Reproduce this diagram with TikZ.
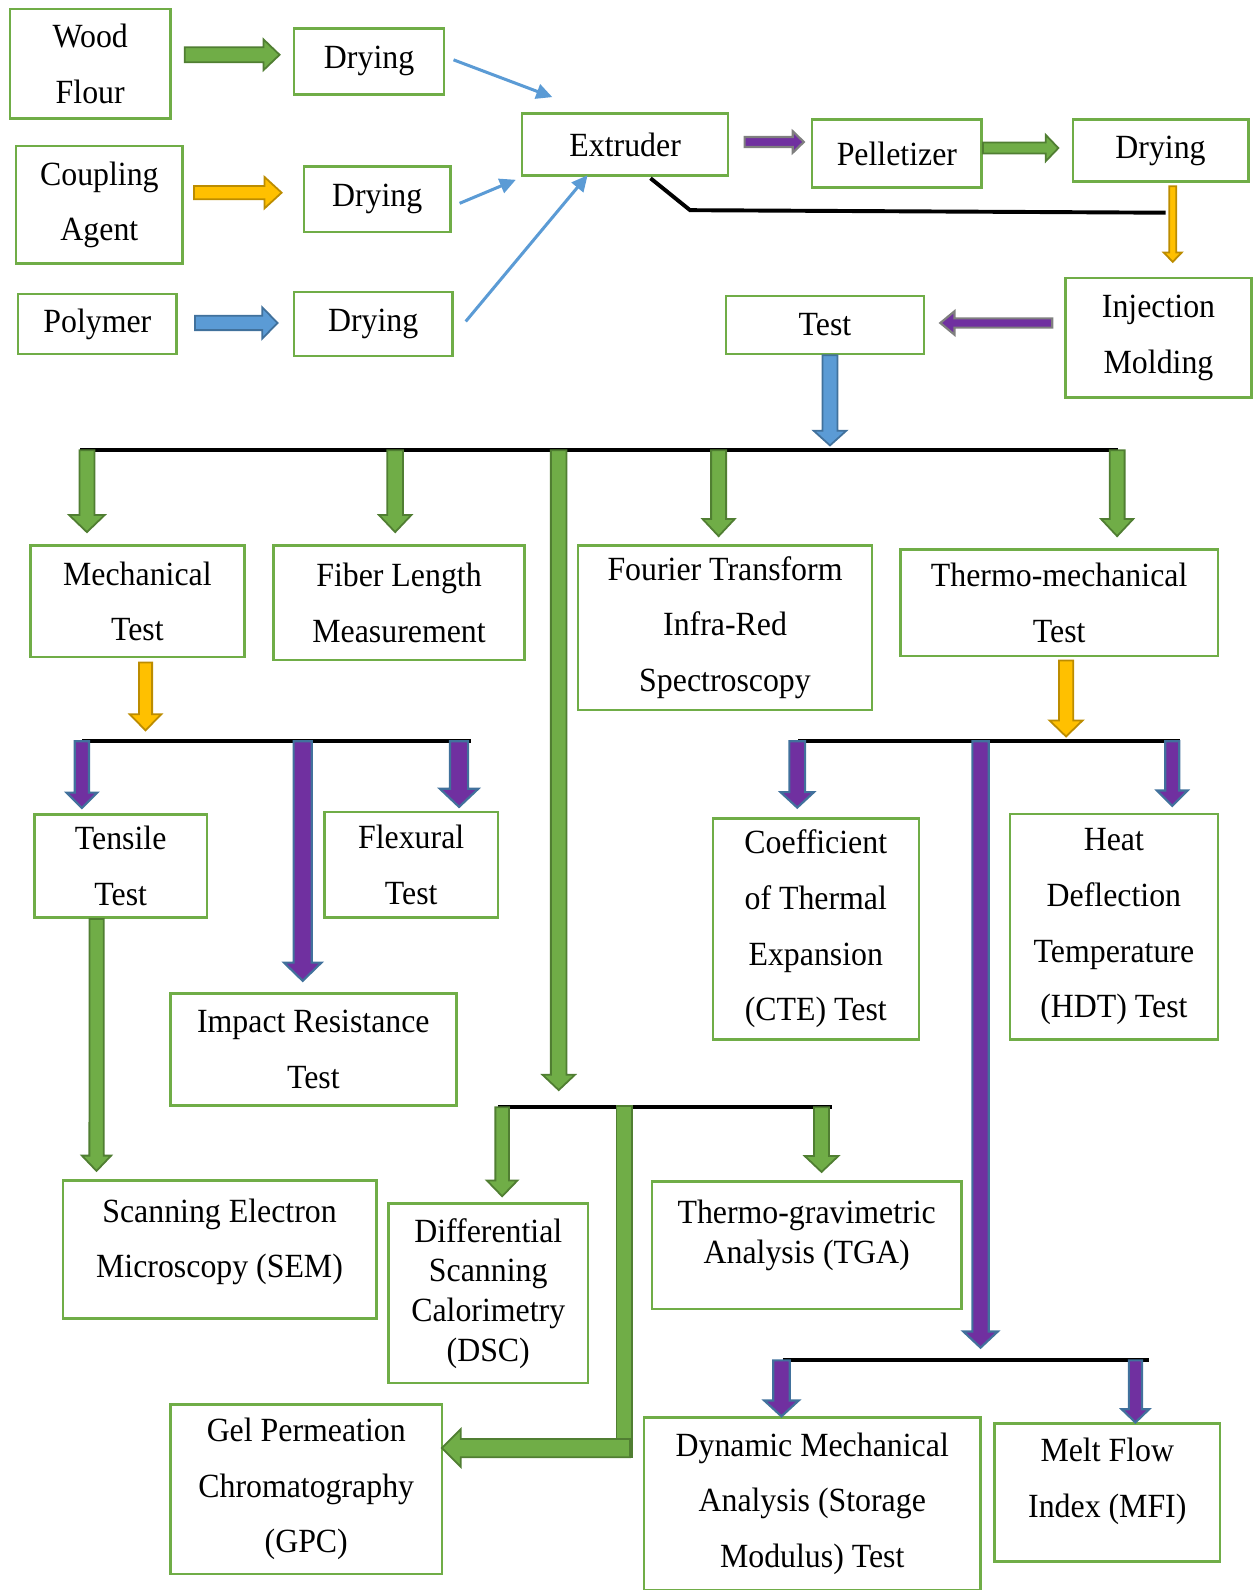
\documentclass[tikz,border=0pt]{standalone}
\usepackage{fontspec}
\setmainfont{Liberation Serif}[FakeStretch=0.94]
\usetikzlibrary{calc,arrows.meta}

\definecolor{boxgreen}{HTML}{70AD47}
\definecolor{grnfill}{HTML}{70AD47}
\definecolor{grnedge}{HTML}{507E32}
\definecolor{orgfill}{HTML}{FFC000}
\definecolor{orgedge}{HTML}{BC8C00}
\definecolor{blufill}{HTML}{5B9BD5}
\definecolor{bluedge}{HTML}{41719C}
\definecolor{purfill}{HTML}{7030A0}
\definecolor{puredge}{HTML}{7F7F7F}

% block arrow: [style]{from}{to}{half shaft}{half head}{head length}
\newcommand{\fatarrow}[6][]{%
  \coordinate (fa-s) at #2;
  \coordinate (fa-e) at #3;
  \coordinate (fa-b) at ($(fa-e)!#6!(fa-s)$);
  \draw[#1] ($(fa-s)!#4!90:(fa-e)$) -- ($(fa-b)!#4!90:(fa-e)$) -- ($(fa-b)!#5!90:(fa-e)$)
    -- (fa-e) -- ($(fa-b)!#5!-90:(fa-e)$) -- ($(fa-b)!#4!-90:(fa-e)$) -- ($(fa-s)!#4!-90:(fa-e)$) -- cycle;}

\tikzset{
  box/.style={draw=boxgreen, line width=0.7pt, inner sep=0pt, align=center,
    font=\fontsize{9.5}{15.6}\selectfont},
  tight/.style={font=\fontsize{9.5}{11.1}\selectfont},
  grn/.style={fill=grnfill, draw=grnedge, line width=0.5pt},
  org/.style={fill=orgfill, draw=orgedge, line width=0.5pt},
  blu/.style={fill=blufill, draw=bluedge, line width=0.5pt},
  pur/.style={fill=purfill, draw=bluedge, line width=0.6pt},
  purg/.style={fill=purfill, draw=puredge, line width=0.6pt},
  feed/.style={draw=blufill, line width=0.85pt, -{Triangle[length=4.5pt,width=4.2pt]}},
  bar/.style={line width=1.1pt}
}

\begin{document}
\begin{tikzpicture}[x=0.01cm,y=-0.01cm]
\useasboundingbox (0,0) rectangle (1235,1568);

% preparation
\node[box, minimum width=1.58cm, minimum height=1.08cm] (wood) at (89,63) {Wood\\Flour};
\node[box, minimum width=1.48cm, minimum height=0.65cm] (dryA) at (364,60.5) {Drying};
\node[box, minimum width=1.64cm, minimum height=1.16cm] (coupling) at (98,202) {Coupling\\Agent};
\node[box, minimum width=1.44cm, minimum height=0.65cm] (dryB) at (372,196.5) {Drying};
\node[box, minimum width=1.56cm, minimum height=0.59cm] (polymer) at (96,319.5) {Polymer};
\node[box, minimum width=1.56cm, minimum height=0.63cm] (dryC) at (368,319.5) {Drying};
\node[box, minimum width=2.03cm, minimum height=0.61cm] (extruder) at (616.5,142.5) {Extruder};
\node[box, minimum width=1.67cm, minimum height=0.67cm] (pellet) at (884.5,151.5) {Pelletizer};
\node[box, minimum width=1.73cm, minimum height=0.61cm] (dryD) at (1144.5,148.5) {Drying};
\node[box, minimum width=1.83cm, minimum height=1.18cm] (inject) at (1142.5,333) {Injection\\Molding};
\node[box, minimum width=1.95cm, minimum height=0.57cm] (test) at (813.5,320.5) {Test};

% tests
\node[box, minimum width=2.11cm, minimum height=1.10cm] (mech) at (135.5,593) {Mechanical\\Test};
\node[box, minimum width=2.47cm, minimum height=1.13cm] (fiber) at (393.5,594.5) {Fiber Length\\Measurement};
\node[box, minimum width=2.90cm, minimum height=1.62cm] (ftir) at (715,619) {Fourier Transform\\Infra-Red\\Spectroscopy};
\node[box, minimum width=3.13cm, minimum height=1.05cm] (thermo) at (1044.5,594.5) {Thermo-mechanical\\Test};
\node[box, minimum width=1.70cm, minimum height=1.02cm] (tensile) at (119,854) {Tensile\\Test};
\node[box, minimum width=1.71cm, minimum height=1.04cm] (flex) at (405.5,853) {Flexural\\Test};
\node[box, minimum width=2.82cm, minimum height=1.10cm] (impact) at (309,1035) {Impact Resistance\\Test};
\node[box, minimum width=2.03cm, minimum height=2.18cm] (cte) at (804.5,916) {Coefficient\\of Thermal\\Expansion\\(CTE) Test};
\node[box, minimum width=2.05cm, minimum height=2.22cm] (hdt) at (1098.5,914) {Heat\\Deflection\\Temperature\\(HDT) Test};
\node[box, text depth=6.2pt, minimum width=3.09cm, minimum height=1.36cm] (sem) at (216.5,1232) {Scanning Electron\\Microscopy (SEM)};
\node[box, tight, minimum width=1.97cm, minimum height=1.77cm] (dsc) at (481.5,1275.5) {Differential\\Scanning\\Calorimetry\\(DSC)};
\node[box, tight, text depth=7.6pt, minimum width=3.05cm, minimum height=1.26cm] (tga) at (795.5,1228) {Thermo-gravimetric\\Analysis (TGA)};
\node[box, minimum width=2.68cm, minimum height=1.67cm] (gpc) at (302,1468.5) {Gel Permeation\\Chromatography\\(GPC)};
\node[box, minimum width=3.32cm, minimum height=1.70cm] (dma) at (801,1483) {Dynamic Mechanical\\Analysis (Storage\\Modulus) Test};
\node[box, text depth=8.2pt, minimum width=2.22cm, minimum height=1.36cm] (mfi) at (1092,1472) {Melt Flow\\Index (MFI)};

% branch bars
\coordinate (barA) at (79,444);
\coordinate (barB) at (81,731);
\coordinate (barC) at (787,731);
\coordinate (barD) at (491,1092);
\coordinate (barE) at (772,1341.5);
\draw[bar] (barA) -- ++(1024,0);
\draw[bar] (barB) -- ++(383.5,0);
\draw[bar] (barC) -- ++(377,0);
\draw[bar] (barD) -- ++(329,0);
\draw[bar] (barE) -- ++(361,0);
\draw[bar] ($(extruder.south)+(25,1.5)$) -- ++(39,31.5) -- ($(dryD.south)+(5,29.5)$);

% feeding
\fatarrow[grn]{($(wood.east)+(13,-9)$)}{($(dryA.west)+(-13,-6.5)$)}{2.1pt}{4.3pt}{4.5pt}
\fatarrow[org]{($(coupling.east)+(10,-12)$)}{($(dryB.west)+(-21,-6.5)$)}{1.85pt}{4.4pt}{4.8pt}
\fatarrow[blu]{($(polymer.east)+(17,-1)$)}{($(dryC.west)+(-15,-1)$)}{2pt}{4.4pt}{4.3pt}
\draw[feed] ($(dryA.east)+(8,-1.5)$) -- ($(extruder.north west)+(31,-15)$);
\draw[feed] ($(dryB.east)+(8,4)$) -- ($(extruder.south west)+(-5,3)$);
\draw[feed] ($(dryC.east)+(12,-2.5)$) -- ($(extruder.south)+(-37,-1.5)$);
\fatarrow[purg]{($(extruder.east)+(15,-2.5)$)}{($(pellet.west)+(-7,-11.5)$)}{1.4pt}{3pt}{3.1pt}
\fatarrow[grn]{($(pellet.east)+(0,-5.5)$)}{($(dryD.west)+(-13,-2.5)$)}{1.55pt}{3.7pt}{3.55pt}
\fatarrow[org]{($(dryD.south)+(12,3.5)$)}{($(inject.north)+(14,-14.5)$)}{1pt}{2.55pt}{2.65pt}
\fatarrow[purg]{($(inject.west)+(-12,-14.5)$)}{($(test.east)+(15,-2)$)}{1.3pt}{3.3pt}{4pt}
\fatarrow[blu]{($(test.south)+(5,0)$)}{($(test.south)+(5,89)$)}{2.1pt}{4.55pt}{4.1pt}

% first level
\coordinate (tM) at ($(mech.north west)+(57,-12)$);
\coordinate (tF) at ($(fiber.north west)+(121,-12)$);
\coordinate (tI) at ($(ftir.north west)+(140,-8)$);
\coordinate (tT) at ($(thermo.north west)+(215,-12)$);
\coordinate (tL) at ($(barD)+(60,-17)$);
\fatarrow[grn]{(tM |- barA)}{(tM)}{2.1pt}{5pt}{4.8pt}
\fatarrow[grn]{(tF |- barA)}{(tF)}{2.2pt}{4.55pt}{4.8pt}
\fatarrow[grn]{(tI |- barA)}{(tI)}{2.1pt}{4.5pt}{4.8pt}
\fatarrow[grn]{(tT |- barA)}{(tT)}{2.1pt}{4.5pt}{4.8pt}
\fatarrow[grn]{(tL |- barA)}{(tL)}{2.2pt}{4.55pt}{4.3pt}

% mechanical branch
\fatarrow[org]{($(mech.south)+(8,4)$)}{($(mech.south)+(8,71)$)}{1.85pt}{4.4pt}{4.5pt}
\coordinate (tTe) at ($(tensile.north west)+(48,-5)$);
\coordinate (tFl) at ($(flex.north west)+(134,-4)$);
\coordinate (tIm) at ($(impact.north)+(-10.5,-11.5)$);
\fatarrow[pur]{(tTe |- barB)}{(tTe)}{2pt}{4.3pt}{4.3pt}
\fatarrow[pur]{(tIm |- barB)}{(tIm)}{2.55pt}{5.25pt}{5.1pt}
\fatarrow[pur]{(tFl |- barB)}{(tFl)}{2.55pt}{5.4pt}{5.1pt}
\fatarrow[grn]{($(tensile.south west)+(62.5,0)$)}{($(sem.north west)+(34.5,-8)$)}{2pt}{4.1pt}{4.3pt}

% thermo-mechanical branch
\fatarrow[org]{($(thermo.south)+(6.8,3)$)}{($(thermo.south)+(6.8,78)$)}{2pt}{4.65pt}{4.5pt}
\coordinate (tC) at ($(cte.north west)+(84.5,-9.3)$);
\coordinate (tH) at ($(hdt.north west)+(161.3,-7)$);
\coordinate (tD) at ($(barE)+(195,-12.5)$);
\fatarrow[pur]{(tC |- barC)}{(tC)}{2.2pt}{4.7pt}{4.35pt}
\fatarrow[pur]{(tD |- barC)}{(tD)}{2.3pt}{4.85pt}{4.55pt}
\fatarrow[pur]{(tH |- barC)}{(tH)}{1.95pt}{4.3pt}{4.3pt}

% thermal branch
\coordinate (tDs) at ($(dsc.north west)+(113.5,-6)$);
\coordinate (tTg) at ($(tga.north west)+(168.5,-8)$);
\fatarrow[grn]{(tDs |- barD)}{(tDs)}{1.9pt}{4.3pt}{4.45pt}
\fatarrow[grn]{(tTg |- barD)}{(tTg)}{2.1pt}{4.7pt}{4.45pt}
\draw[grn] ($(barD)+(117,-1)$) rectangle ++(15.4,346);
\fatarrow[grn]{($(gpc.east)+(184,-40.5)$)}{($(gpc.east)+(-1.5,-40.5)$)}{2.55pt}{5.25pt}{5.25pt}

% dynamic branch
\coordinate (tDm) at ($(dma.north west)+(137,0)$);
\coordinate (tMf) at ($(mfi.north west)+(140,0)$);
\fatarrow[pur]{(tDm |- barE)}{(tDm)}{2.3pt}{4.85pt}{4.45pt}
\fatarrow[pur]{(tMf |- barE)}{(tMf)}{1.85pt}{3.85pt}{3.7pt}
\end{tikzpicture}
\end{document}
